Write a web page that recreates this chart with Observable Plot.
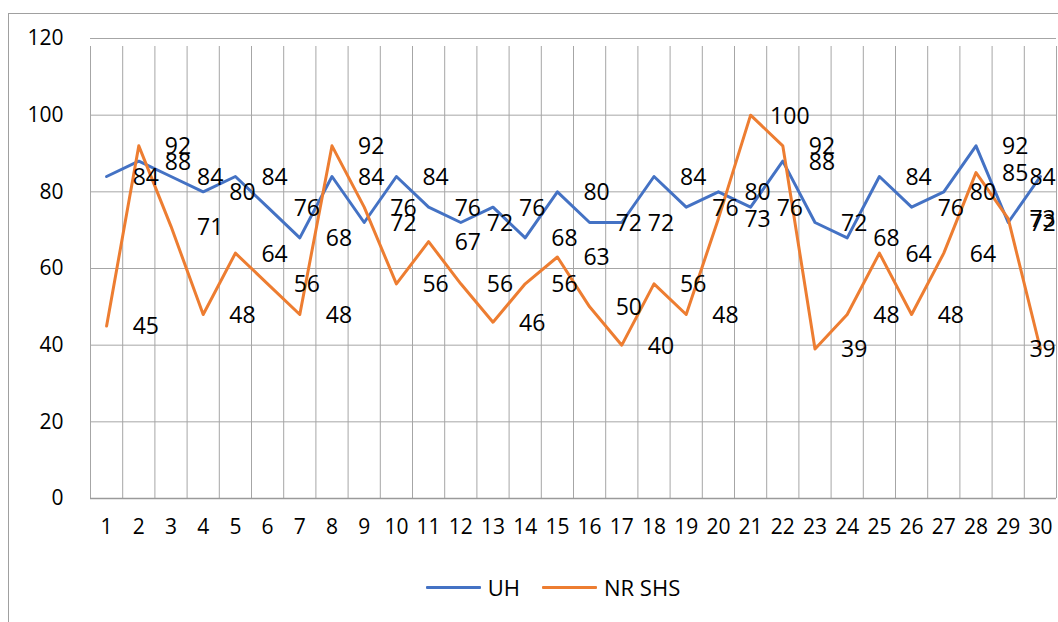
<!DOCTYPE html>
<html>
<head>
<meta charset="utf-8">
<script src="https://cdn.jsdelivr.net/npm/d3@7"></script>
<script src="https://cdn.jsdelivr.net/npm/@observablehq/plot@0.6"></script>
<style>
  html, body { margin: 0; padding: 0; background: #fff; width: 1058px; height: 622px; overflow: hidden; }
  #frame { position: absolute; left: 8px; top: 13px; width: 1100px; height: 700px; border: 1px solid #a0a0a0; box-sizing: border-box; }
  #chart { position: absolute; left: 0; top: 0; }
  #legend { position: absolute; left: 24px; top: 571px; width: 1058px; height: 32px; display: flex; justify-content: center; align-items: center;
            font-family: "Open Sans", sans-serif; font-size: 22px; color: #000; }
  .item { display: flex; align-items: center; margin: 0 11px; }
  .swatch { width: 55px; height: 3px; margin-right: 7px; border-radius: 1px; }
</style>
</head>
<body>
<div id="frame"></div>
<div id="chart"></div>
<div id="legend"></div>
<script>
const days = d3.range(1, 31);
const seriesNames = ["UH", "NR SHS"];
const seriesColors = ["#4472C4", "#ED7D31"];
const uh = [84,88,84,80,84,76,68,84,72,84,76,72,76,68,80,72,72,84,76,80,76,88,72,68,84,76,80,92,72,84];
const nrshs = [45,92,71,48,64,56,48,92,76,56,67,56,46,56,63,50,40,56,48,73,100,92,39,48,64,48,64,85,73,39];
const yTicks = [0,20,40,60,80,100,120];

const rows = days.map((d, i) => ({day: d, uh: uh[i], nr: nrshs[i]}));
const boundaries = [0.5, ...days.map(d => d + 0.5)];
// labels sit one category to the right of their point, kept inside the plot at the right edge
const labelX = d => Math.min(d.day + 1, days[days.length - 1] - 0.15);

const font = "'Open Sans', sans-serif";
const chart = Plot.plot({
  width: 1058,
  height: 560,
  marginLeft: 90,
  marginRight: 2,
  marginTop: 38,
  marginBottom: 62,
  x: {type: "linear", domain: [0.5, 30.5]},
  y: {domain: [0, 120]},
  style: {fontFamily: font, fontSize: "21px", color: "#000", background: "transparent", overflow: "visible"},
  marks: [
    Plot.ruleY(yTicks, {stroke: "#a6a6a6", strokeWidth: 1, strokeOpacity: 1}),
    Plot.ruleX(boundaries, {y1: 0, y2: 120, stroke: "#a6a6a6", strokeWidth: 1, strokeOpacity: 1, insetBottom: -8}),
    Plot.ruleY([0], {stroke: "#9a9a9a", strokeWidth: 1.5}),
    Plot.axisY({ticks: yTicks, tickSize: 0, tickPadding: 27, label: null, fontSize: 21}),
    Plot.axisX({ticks: days, tickSize: 0, tickPadding: 21, label: null, tickFormat: d => String(d), fontSize: 21}),
    Plot.line(rows, {x: "day", y: "uh", stroke: seriesColors[0], strokeWidth: 3}),
    Plot.line(rows, {x: "day", y: "nr", stroke: seriesColors[1], strokeWidth: 3}),
    Plot.text(rows, {x: labelX, y: "uh", text: d => String(d.uh), dx: 7, dy: 1, fontSize: 23, fill: "#000"}),
    Plot.text(rows, {x: labelX, y: "nr", text: d => String(d.nr), dx: 7, dy: 1, fontSize: 23, fill: "#000"})
  ]
});
document.getElementById("chart").appendChild(chart);

const legend = document.getElementById("legend");
seriesNames.forEach((name, i) => {
  const item = document.createElement("div");
  item.className = "item";
  const sw = document.createElement("div");
  sw.className = "swatch";
  sw.style.background = seriesColors[i];
  const label = document.createElement("span");
  label.textContent = name;
  item.appendChild(sw);
  item.appendChild(label);
  legend.appendChild(item);
});
</script>
</body>
</html>
